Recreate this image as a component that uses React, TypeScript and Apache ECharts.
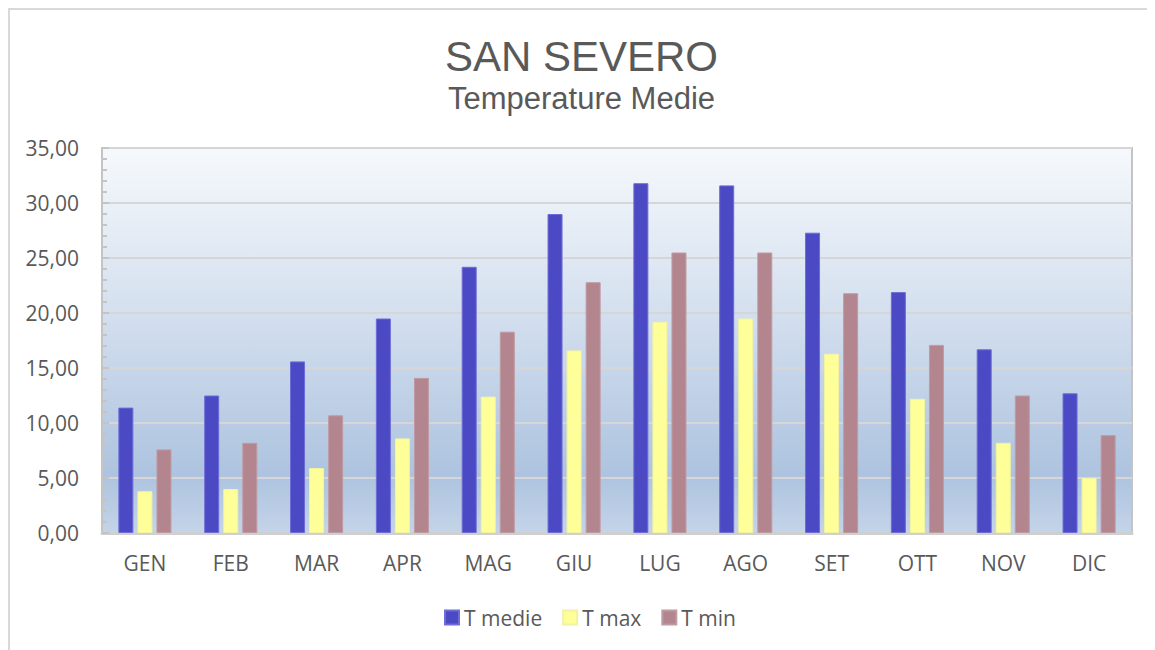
import React, { useEffect, useRef } from "react";
import * as echarts from "echarts";

const months = ["GEN", "FEB", "MAR", "APR", "MAG", "GIU", "LUG", "AGO", "SET", "OTT", "NOV", "DIC"];
const tMedie = [11.4, 12.5, 15.6, 19.5, 24.2, 29.0, 31.8, 31.6, 27.3, 21.9, 16.7, 12.7];
const tMax = [3.8, 4.0, 5.9, 8.6, 12.4, 16.6, 19.2, 19.5, 16.3, 12.2, 8.2, 5.0];
const tMin = [7.6, 8.2, 10.7, 14.1, 18.3, 22.8, 25.5, 25.5, 21.8, 17.1, 12.5, 8.9];
const seriesNames = ["T medie", "T max", "T min"];
const seriesColors = ["#4B49C3", "#FFFF99", "#B3868F"];
const seriesBorders = ["#6E6CD6", "#F2F2A0", "#C09AA2"];

export default function App() {
  const ref = useRef<HTMLDivElement>(null);
  useEffect(() => {
    if (!ref.current) return;
    const chart = echarts.init(ref.current, null, { renderer: "svg" });
    const font = "'Open Sans', sans-serif";
    const data = [tMedie, tMax, tMin];
    chart.setOption({
      animation: false,
      title: [
        {
          text: "SAN SEVERO",
          left: "center",
          top: 22,
          textStyle: { fontFamily: "'Liberation Sans', Arial, sans-serif", fontSize: 42, fontWeight: "normal", color: "#595959" },
        },
        {
          text: "Temperature Medie",
          left: "center",
          top: 70,
          textStyle: { fontFamily: "'Liberation Sans', Arial, sans-serif", fontSize: 31, fontWeight: "normal", color: "#595959" },
        },
      ],
      graphic: [
        { type: "line", shape: { x1: 1, y1: 0, x2: 1, y2: 642 }, style: { stroke: "#d9d9d9", lineWidth: 2 } },
        { type: "line", shape: { x1: 0, y1: 1, x2: 1147, y2: 1 }, style: { stroke: "#d9d9d9", lineWidth: 2 } },
      ],
      legend: {
        data: seriesNames,
        left: 431,
        top: 594,
        itemWidth: 14,
        itemHeight: 14,
        itemGap: 20,
        icon: "rect",
        textStyle: { fontFamily: font, fontSize: 21, color: "#595959" },
      },
      grid: {
        left: 94,
        right: 23,
        top: 140,
        bottom: 117,
        show: true,
        borderColor: "#c4c4c4",
        borderWidth: 2,
        backgroundColor: new echarts.graphic.LinearGradient(0, 0, 0, 1, [
          { offset: 0, color: "#f6f9fc" },
          { offset: 0.45, color: "#d2deee" },
          { offset: 0.85, color: "#adc3df" },
          { offset: 1, color: "#c4d4e9" },
        ]),
      },
      xAxis: {
        type: "category",
        data: months,
        axisTick: { show: false },
        axisLine: { lineStyle: { color: "#cfcfcf", width: 3 } },
        axisLabel: { fontFamily: font, fontSize: 21, color: "#595959", margin: 19 },
      },
      yAxis: {
        type: "value",
        min: 0,
        max: 35,
        interval: 5,
        axisLine: { show: true, lineStyle: { color: "#c4c4c4", width: 2 } },
        axisTick: { show: true, inside: true, length: 7, lineStyle: { color: "#c4c4c4", width: 2 } },
        minorTick: { show: true, splitNumber: 5, length: 5, lineStyle: { color: "#c4c4c4", width: 2 } },
        splitLine: { lineStyle: { color: "#d6d6d6", width: 2 } },
        axisLabel: {
          fontFamily: font,
          fontSize: 21,
          color: "#595959",
          margin: 23,
          formatter: (v: number) => v.toFixed(2).replace(".", ","),
        },
      },
      series: data.map((d, i) => ({
        name: seriesNames[i],
        type: "bar",
        data: d,
        barWidth: 15,
        barGap: "27%",
        itemStyle: { color: seriesColors[i], borderColor: seriesBorders[i], borderWidth: 1 },
      })),
    });
    return () => chart.dispose();
  }, []);
  return <div ref={ref} style={{ width: 1147, height: 642 }} />;
}
